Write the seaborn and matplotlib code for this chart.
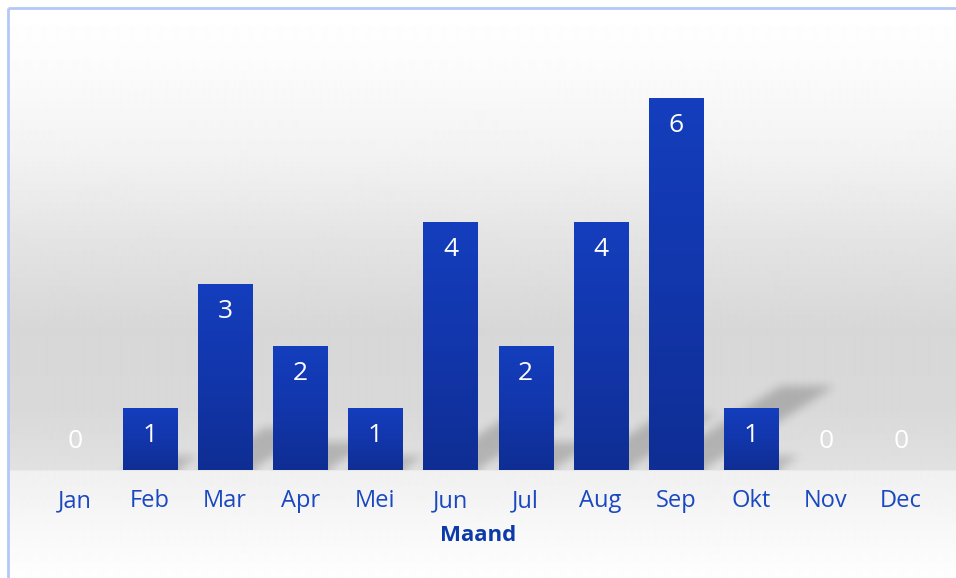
import numpy as np
import matplotlib
matplotlib.use("Agg")
import matplotlib.pyplot as plt
import seaborn as sns
from matplotlib.path import Path
from matplotlib.colors import LinearSegmentedColormap

months = ["Jan", "Feb", "Mar", "Apr", "Mei", "Jun", "Jul", "Aug", "Sep", "Okt", "Nov", "Dec"]
values = [0, 1, 3, 2, 1, 4, 2, 4, 6, 1, 0, 0]
x_title = "Maand"

sns.set_theme(style="white")
plt.rcParams['font.family'] = ['Open Sans', 'DejaVu Sans']

W, H = 956, 578
fig = plt.figure(figsize=(W / 100, H / 100), dpi=100)
fig.patch.set_facecolor("white")

# background with gradient
bg = fig.add_axes([0, 0, 1, 1])
bg.set_xlim(0, W)
bg.set_ylim(H, 0)
bg.axis("off")
ys = np.arange(H)
stops_y = [8, 60, 150, 250, 330, 410, 469, 471, 530, 578]
stops_v = [255, 252, 243, 226, 215, 217, 225, 240, 248, 254]
col = np.interp(ys, stops_y, stops_v)[8:]
grad = np.repeat(col[:, None], 2, axis=1)
bg.imshow(grad, extent=(8, W, H, 8), cmap="gray", vmin=0, vmax=255,
          aspect="auto", interpolation="bilinear")
bg.plot([8, 8], [8, H], color="#b4c8f6", lw=2, solid_capstyle="butt")
bg.plot([8, W], [8, 8], color="#b4c8f6", lw=2, solid_capstyle="butt")

# main axes: bottom at baseline (pixel 470), top at pixel 8
base_px = 470
px_per_unit = 62.0
spacing = 75.09
ax = fig.add_axes([0, (H - base_px) / H, 1, (base_px - 8) / H])
ax.patch.set_alpha(0)

sns.barplot(x=months, y=values, ax=ax, color="#1238a8", width=0.72,
            saturation=1, zorder=3)

x0 = -75 / spacing
x1 = (W - 75) / spacing
y1 = (base_px - 8) / px_per_unit
ax.set_xlim(x0, x1)
ax.set_ylim(0, y1)

# shadows
aw, ah = W, base_px - 8
cx = x0 + (np.arange(aw) + 0.5) / aw * (x1 - x0)
cy = y1 - (np.arange(ah) + 0.5) / ah * y1
XX, YY = np.meshgrid(cx, cy)
pts = np.column_stack([XX.ravel(), YY.ravel()])
mask = np.zeros(aw * ah, dtype=float)
hw = 0.36
sdx = 22 / spacing
sdy = 14 / px_per_unit
for i, v in enumerate(values):
    if v <= 0:
        continue
    poly = Path([(i - hw, 0), (i + hw, 0), (i + hw + sdx * v, sdy * v),
                 (i - hw + sdx * v, sdy * v), (i - hw, 0)])
    mask = np.maximum(mask, poly.contains_points(pts).astype(float))
mask = mask.reshape(ah, aw)


def box_blur(a, r):
    k = 2 * r + 1
    p = np.pad(a, ((r, r), (r, r)), mode="edge")
    c = np.cumsum(p, axis=0)
    c = np.vstack([np.zeros((1, c.shape[1])), c])
    a2 = (c[k:] - c[:-k]) / k
    c = np.cumsum(a2, axis=1)
    c = np.hstack([np.zeros((c.shape[0], 1)), c])
    return (c[:, k:] - c[:, :-k]) / k


for _ in range(3):
    mask = box_blur(mask, 4)
rgba = np.zeros((ah, aw, 4))
rgba[..., 3] = mask * 0.2
ax.imshow(rgba, extent=(x0, x1, 0, y1), aspect="auto", zorder=1,
          interpolation="nearest")

# gradient fill for bars
bar_grad = np.linspace(0, 1, 100)[:, None]
bcmap = LinearSegmentedColormap.from_list("bg", ["#0f2e94", "#1236ab", "#143ebd"])
for p in ax.patches:
    h = p.get_height()
    if h <= 0:
        p.set_visible(False)
        continue
    bx, by = p.get_x(), p.get_y()
    bw = p.get_width()
    im = ax.imshow(bar_grad, extent=(bx, bx + bw, by, by + h), origin="lower",
                   cmap=bcmap, aspect="auto", zorder=3, interpolation="bilinear")
    im.set_clip_path(p)
    p.set_facecolor("none")
    p.set_edgecolor("none")

ax.set_xlim(x0, x1)
ax.set_ylim(0, y1)

for i, v in enumerate(values):
    ty = v - 28 / px_per_unit if v > 0 else 29 / px_per_unit
    ax.text(i, ty, str(v), ha="center", va="center", color="white",
            fontsize=19, zorder=5)

ax.set_yticks([])
ax.tick_params(axis="x", length=0, pad=14, labelsize=17, labelcolor="#1a48c0")
ax.set_xlabel(x_title, fontsize=16, color="#0c3aa8", fontweight="bold",
              labelpad=8)
for s in ax.spines.values():
    s.set_visible(False)

fig.savefig("out.png", dpi=100)
